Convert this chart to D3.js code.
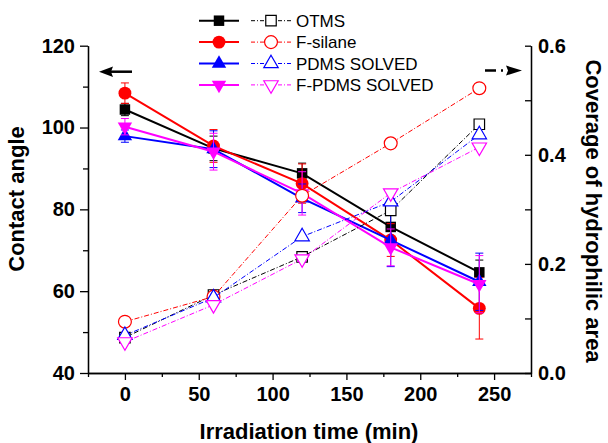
<!DOCTYPE html>
<html>
<meta charset="utf-8">
<head>
<style>
body { margin:0; padding:0; background:#fff; }
svg { display:block; font-family: "Liberation Sans", Arial, sans-serif; }
.axis path, .axis line { stroke:#000; stroke-width:1.3; }
.axis text { font-size:20px; font-weight:bold; fill:#000; }
.title { font-size:22px; font-weight:bold; }
.legend text { font-size:17px; }
</style>
</head>
<body>
<svg></svg>
<script src="https://d3js.org/d3.v7.min.js"></script>
<script>

var width = 608, height = 443;

// irradiation time (min)
var times = [0, 60, 120, 180, 240];

var names = ["OTMS", "F-silane", "PDMS SOLVED", "F-PDMS SOLVED"];
var colors = ["#000000", "#ff0000", "#0000ff", "#ff00ff"];

// contact angle (left axis)
var angleOTMS   = [104.4, 94.9, 88.8, 75.7, 64.6];
var angleFsil   = [108.4, 95.5, 86.3, 72.5, 55.8];
var anglePDMS   = [97.9, 94.7, 82.7, 72.5, 62.3];
var angleFPDMS  = [100.2, 94.1, 83.9, 70.7, 61.7];

// contact angle errors
var errOTMS  = [1.5, 3, 2.5, 3, 3];
var errFsil  = [2.5, 4, 4.8, 4, 7.5];
var errPDMS  = [1.5, 4.5, 3.5, 6.5, 7];
var errFPDMS = [2, 4.5, 5.3, 4.5, 7];

// coverage of hydrophilic area (right axis)
var covOTMS  = [0.065, 0.143, 0.213, 0.298, 0.456];
var covFsil  = [0.094, 0.140, 0.325, 0.421, 0.522];
var covPDMS  = [0.069, 0.138, 0.250, 0.314, 0.437];
var covFPDMS = [0.057, 0.125, 0.209, 0.330, 0.414];

var xTicks = [0, 50, 100, 150, 200, 250];
var yLeftTicks = [40, 60, 80, 100, 120];
var yRightTicks = [0.0, 0.2, 0.4, 0.6];

var angles = [angleOTMS, angleFsil, anglePDMS, angleFPDMS];
var errs = [errOTMS, errFsil, errPDMS, errFPDMS];
var covs = [covOTMS, covFsil, covPDMS, covFPDMS];

var svg = d3.select("svg").attr("width", width).attr("height", height);

var x = d3.scaleLinear().domain([-25, 275]).range([88, 531]);
var yL = d3.scaleLinear().domain([40, 120]).range([373, 45.7]);
var yR = d3.scaleLinear().domain([0, 0.6]).range([373, 45.7]);

// minor ticks
svg.append("g").attr("class", "axis").attr("transform", "translate(0,373)")
  .call(d3.axisBottom(x).tickValues(d3.range(-25, 276, 50)).tickSize(4).tickSizeOuter(0).tickFormat(""));
svg.append("g").attr("class", "axis").attr("transform", "translate(88,0)")
  .call(d3.axisLeft(yL).tickValues([50, 70, 90, 110]).tickSize(5).tickSizeOuter(0).tickFormat(""));
svg.append("g").attr("class", "axis").attr("transform", "translate(531,0)")
  .call(d3.axisRight(yR).tickValues([0.1, 0.3, 0.5]).tickSizeInner(-6).tickSizeOuter(0).tickFormat(""));

// major axes
svg.append("g").attr("class", "axis").attr("transform", "translate(0,373)")
  .call(d3.axisBottom(x).tickValues(xTicks).tickSize(7).tickSizeOuter(0).tickPadding(7));
svg.append("g").attr("class", "axis").attr("transform", "translate(88,0)")
  .call(d3.axisLeft(yL).tickValues(yLeftTicks).tickSize(8).tickSizeOuter(0).tickPadding(5));
svg.append("g").attr("class", "axis").attr("transform", "translate(531,0)")
  .call(d3.axisRight(yR).tickValues(yRightTicks).tickSizeInner(-6).tickSizeOuter(0).tickPadding(7)
    .tickFormat(d3.format(".1f")));

// axis titles
svg.append("text").attr("class", "title").attr("text-anchor", "middle")
  .attr("transform", "translate(24,199) rotate(-90)").text("Contact angle");
svg.append("text").attr("class", "title").attr("text-anchor", "middle")
  .attr("transform", "translate(586,211) rotate(90)").text("Coverage of hydrophilic area");
svg.append("text").attr("class", "title").attr("text-anchor", "middle")
  .attr("x", 309).attr("y", 439).text("Irradiation time (min)");

var symbols = [d3.symbolSquare, d3.symbolCircle, d3.symbolTriangle, d3.symbolTriangle];
var sizes = [110, 130, 90, 90];
var rot = [0, 0, 0, 180];

function marker(i) {
  return d3.symbol().type(symbols[i]).size(sizes[i])();
}

// solid series: contact angle
angles.forEach(function(vals, i) {
  var pts = times.map(function(t, k) { return {t: t, v: vals[k], e: errs[i][k]}; });
  var g = svg.append("g");
  g.append("path").datum(pts)
    .attr("fill", "none").attr("stroke", colors[i]).attr("stroke-width", 2)
    .attr("d", d3.line().x(function(d) { return x(d.t); }).y(function(d) { return yL(d.v); }));
  var eb = g.selectAll(".eb").data(pts).enter().append("g")
    .attr("stroke", colors[i]).attr("stroke-width", 1);
  eb.append("line")
    .attr("x1", function(d) { return x(d.t); }).attr("x2", function(d) { return x(d.t); })
    .attr("y1", function(d) { return yL(d.v - d.e); }).attr("y2", function(d) { return yL(d.v + d.e); });
  eb.append("line")
    .attr("x1", function(d) { return x(d.t) - 4; }).attr("x2", function(d) { return x(d.t) + 4; })
    .attr("y1", function(d) { return yL(d.v + d.e); }).attr("y2", function(d) { return yL(d.v + d.e); });
  eb.append("line")
    .attr("x1", function(d) { return x(d.t) - 4; }).attr("x2", function(d) { return x(d.t) + 4; })
    .attr("y1", function(d) { return yL(d.v - d.e); }).attr("y2", function(d) { return yL(d.v - d.e); });
  g.selectAll(".m").data(pts).enter().append("path")
    .attr("d", marker(i)).attr("fill", colors[i])
    .attr("transform", function(d) { return "translate(" + x(d.t) + "," + yL(d.v) + ") rotate(" + rot[i] + ")"; });
});

// dashed series: coverage
covs.forEach(function(vals, i) {
  var pts = times.map(function(t, k) { return {t: t, v: vals[k]}; });
  var g = svg.append("g");
  g.append("path").datum(pts)
    .attr("fill", "none").attr("stroke", colors[i]).attr("stroke-width", 1)
    .attr("stroke-dasharray", "5,2,1,2")
    .attr("d", d3.line().x(function(d) { return x(d.t); }).y(function(d) { return yR(d.v); }));
  g.selectAll(".m").data(pts).enter().append("path")
    .attr("d", marker(i)).attr("fill", "#fff").attr("stroke", colors[i]).attr("stroke-width", 1.2)
    .attr("transform", function(d) { return "translate(" + x(d.t) + "," + yR(d.v) + ") rotate(" + rot[i] + ")"; });
});

// direction arrows
svg.append("line").attr("x1", 110).attr("x2", 132).attr("y1", 71.7).attr("y2", 71.7)
  .attr("stroke", "#000").attr("stroke-width", 2.5);
svg.append("path").attr("d", "M99,71.7 L113,66.5 L111,71.7 L113,77 Z").attr("fill", "#000");
svg.append("line").attr("x1", 485).attr("x2", 510).attr("y1", 70.5).attr("y2", 70.5)
  .attr("stroke", "#000").attr("stroke-width", 2.5).attr("stroke-dasharray", "11,5,2,5");
svg.append("path").attr("d", "M522,70.5 L506,65.5 L508,70.5 L506,75.5 Z").attr("fill", "#000");

// legend
var leg = svg.append("g").attr("class", "legend");
names.forEach(function(n, i) {
  var cy = 20.7 + i * 21.4;
  leg.append("line").attr("x1", 199).attr("x2", 239).attr("y1", cy).attr("y2", cy)
    .attr("stroke", colors[i]).attr("stroke-width", 2);
  leg.append("path").attr("d", marker(i)).attr("fill", colors[i])
    .attr("transform", "translate(219," + cy + ") rotate(" + rot[i] + ")");
  leg.append("line").attr("x1", 251).attr("x2", 291).attr("y1", cy).attr("y2", cy)
    .attr("stroke", colors[i]).attr("stroke-width", 1).attr("stroke-dasharray", "4,2,1,2");
  leg.append("path").attr("d", marker(i)).attr("fill", "#fff").attr("stroke", colors[i]).attr("stroke-width", 1.2)
    .attr("transform", "translate(271," + cy + ") rotate(" + rot[i] + ")");
  leg.append("text").attr("x", 296).attr("y", cy + 6).text(n);
});

</script>
</body>
</html>
